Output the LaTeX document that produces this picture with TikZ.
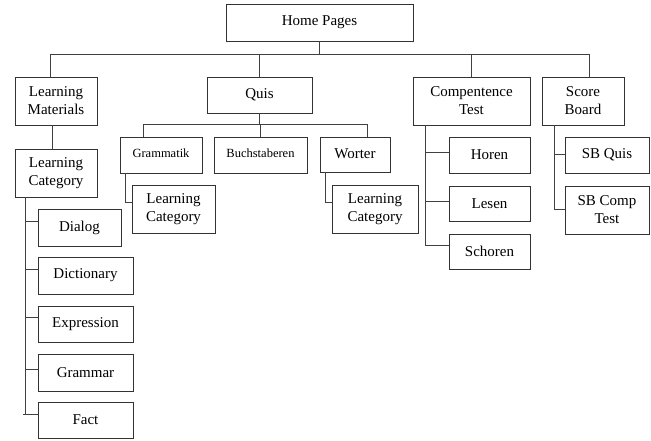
\documentclass[tikz,border=0pt]{standalone}
\usepackage{fontspec}
\setmainfont{Liberation Serif}
\begin{document}
\begin{tikzpicture}[x=1pt,y=-1pt,
  box/.style={draw=black!80, line width=0.9pt, fill=white, inner sep=0pt, align=center,
    font=\fontsize{15}{18}\selectfont},
  smallbox/.style={box, font=\fontsize{12.5}{15}\selectfont},
  conn/.style={draw=black!75, line width=0.9pt}]
\useasboundingbox[fill=white] (0,0) rectangle (651,441);
% bus lines first
\coordinate (b1) at (50,54);
\coordinate (b2) at (589,54);
\coordinate (q1) at (143,124);
\coordinate (q2) at (367,124);
\coordinate (m1) at (52,0);
\coordinate (g1) at (125,202);
\coordinate (w1) at (325,202);
\coordinate (s1) at (25,221);
\coordinate (s2) at (25,269);
\coordinate (s3) at (25,317);
\coordinate (s4) at (25,369);
\coordinate (s5) at (25,414);
\coordinate (c1) at (425,152);
\coordinate (c2) at (425,201);
\coordinate (c3) at (425,245);
\coordinate (d1) at (554,154);
\coordinate (d2) at (554,209);

\node[box, minimum width=187, minimum height=37] (home) at (319.5,22.5) {Home Pages};
\node[box, minimum width=82, minimum height=48] (lm) at (56,101) {Learning\\Materials};
\node[box, minimum width=105, minimum height=36] (quis) at (259.5,95) {Quis};
\node[box, minimum width=117, minimum height=48] (ct) at (471.5,101) {Compentence\\Test};
\node[box, minimum width=82, minimum height=48] (sb) at (583,101) {Score\\Board};
\node[box, minimum width=82, minimum height=48] (lc) at (56,173) {Learning\\Category};
\node[box, minimum width=83, minimum height=37] (dialog) at (79.5,227.5) {Dialog};
\node[box, minimum width=95, minimum height=37] (dictionary) at (85.5,275.5) {Dictionary};
\node[box, minimum width=95, minimum height=36] (expression) at (85.5,324) {Expression};
\node[box, minimum width=95, minimum height=37] (grammar) at (85.5,372.5) {Grammar};
\node[box, minimum width=95, minimum height=36] (fact) at (85.5,420) {Fact};
\node[smallbox, minimum width=82, minimum height=36] (gram) at (161,155) {\raisebox{4pt}{Grammatik}};
\node[smallbox, minimum width=93, minimum height=36] (buch) at (260.5,155) {\raisebox{4pt}{Buchstaberen}};
\node[box, minimum width=70, minimum height=35] (worter) at (355,154.5) {\raisebox{2pt}{Worter}};
\node[box, minimum width=83, minimum height=48] (lc2) at (173.5,209) {Learning\\Category};
\node[box, minimum width=86, minimum height=48] (lc3) at (375,209) {Learning\\Category};
\node[box, minimum width=81, minimum height=36] (horen) at (489.5,155) {Horen};
\node[box, minimum width=81, minimum height=35] (lesen) at (489.5,203.5) {Lesen};
\node[box, minimum width=81, minimum height=35] (schoren) at (489.5,251.5) {Schoren};
\node[box, minimum width=84, minimum height=36] (sbq) at (607,155) {SB Quis};
\node[box, minimum width=84, minimum height=48] (sbc) at (607,210) {SB Comp\\Test};

% connectors
\draw[conn] (home.south) -- (home.south |- b1);
\draw[conn] (b1 |- lm.north) -- (b1) -- (b2) -- (b2 |- sb.north);
\draw[conn] (quis.north) -- (quis.north |- b1);
\draw[conn] (ct.north) -- (ct.north |- b1);

\draw[conn] (quis.south) -- (quis.south |- q1);
\draw[conn] (q1 |- gram.north) -- (q1) -- (q2) -- (q2 |- worter.north);
\draw[conn] (buch.north) -- (buch.north |- q1);

\draw[conn] (m1 |- lm.south) -- (m1 |- lc.north);
\draw[conn] (s5 |- lc.south) -- (s5) -- ++(-2,0);
\draw[conn] (s1) -- (dialog.west |- s1);
\draw[conn] (s2) -- (dictionary.west |- s2);
\draw[conn] (s3) -- (expression.west |- s3);
\draw[conn] (s4) -- (grammar.west |- s4);
\draw[conn] (s5) -- (fact.west |- s5);

\draw[conn] (g1 |- gram.south) -- (g1) -- (lc2.west |- g1);
\draw[conn] (w1 |- worter.south) -- (w1) -- (lc3.west |- w1);

\draw[conn] (c3 |- ct.south) -- (c3) -- (schoren.west |- c3);
\draw[conn] (c1) -- (horen.west |- c1);
\draw[conn] (c2) -- (lesen.west |- c2);

\draw[conn] (d2 |- sb.south) -- (d2) -- (sbc.west |- d2);
\draw[conn] (d1) -- (sbq.west |- d1);
\end{tikzpicture}
\end{document}
